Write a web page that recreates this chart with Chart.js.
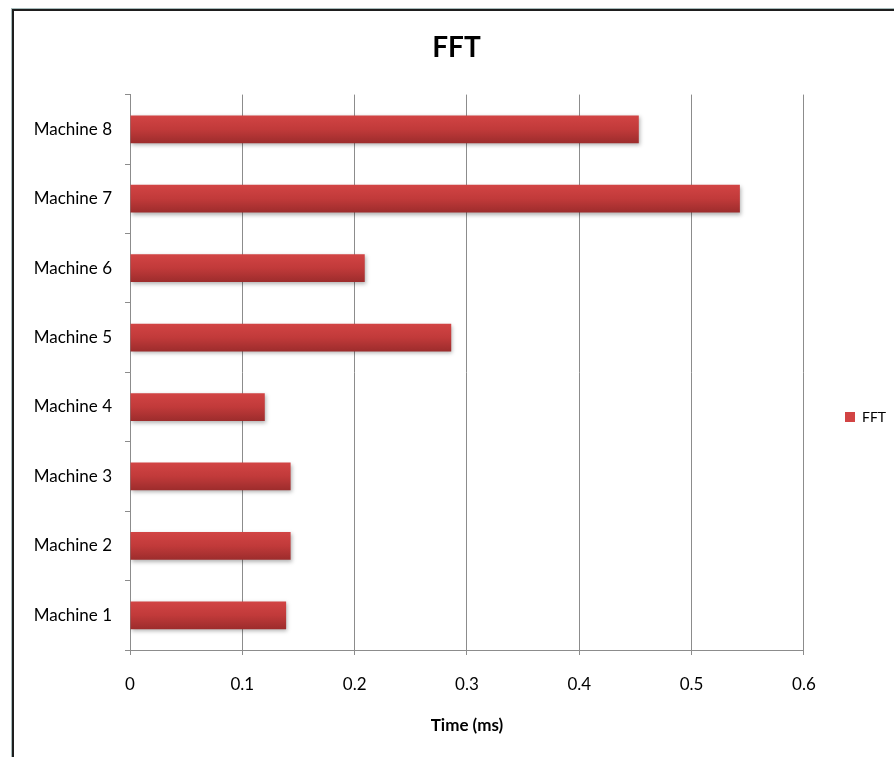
<!DOCTYPE html>
<html>
<head>
<meta charset="utf-8">
<title>FFT</title>
<script src="https://cdn.jsdelivr.net/npm/chart.js@4/dist/chart.umd.min.js"></script>
<style>
    html, body { margin: 0; padding: 0; background: #fff; }
    #marco {
        position: relative;
        width: 894px;
        height: 757px;
        overflow: hidden;
    }
    #grafico { position: absolute; left: 0; top: 0; }
    /* borde de la ventana (arriba e izquierda) */
    #borde {
        position: absolute;
        left: 12px; top: 9px; right: -10px; bottom: -10px;
        border-top: 2px solid #1e1e1e;
        border-left: 2px solid #1e1e1e;
        box-shadow: -1px -1px 0 #a8bcbc;
        pointer-events: none;
    }
</style>
</head>
<body>
<div id="marco">
    <canvas id="grafico" width="894" height="757"></canvas>
    <div id="borde"></div>
</div>
<script>
// Datos del gráfico
const maquinas = ["Machine 1", "Machine 2", "Machine 3", "Machine 4",
                  "Machine 5", "Machine 6", "Machine 7", "Machine 8"];
const tiemposFFT = [0.139, 0.143, 0.143, 0.12, 0.286, 0.209, 0.543, 0.453];
const ticksTiempo = [0, 0.1, 0.2, 0.3, 0.4, 0.5, 0.6];

const fuente = "Lato, 'Open Sans', sans-serif";
const gris = "#8c8c8c";

// Degradado rojo de cada barra (más claro arriba)
function colorBarra(ctx) {
    const chart = ctx.chart;
    const escala = chart.scales && chart.scales.y;
    if (!chart.chartArea || !escala || ctx.dataIndex === undefined) {
        return "#c0393b";
    }
    const centro = escala.getPixelForValue(ctx.dataIndex);
    const medio = 14;
    const g = chart.ctx.createLinearGradient(0, centro - medio, 0, centro + medio);
    g.addColorStop(0, "#d24444");
    g.addColorStop(0.5, "#c13a3a");
    g.addColorStop(1, "#9c2c2c");
    return g;
}

// Sombra suave debajo de las barras
const sombraBarras = {
    id: "sombraBarras",
    beforeDatasetsDraw(chart) {
        const c = chart.ctx;
        c.save();
        c.shadowColor = "rgba(0,0,0,0.30)";
        c.shadowBlur = 4;
        c.shadowOffsetX = 1;
        c.shadowOffsetY = 2;
    },
    afterDatasetsDraw(chart) {
        chart.ctx.restore();
    }
};

// Coloca la leyenda a la derecha y centra el título sobre el área del gráfico
const posicionLeyenda = {
    id: "posicionLeyenda",
    afterLayout(chart) {
        const lg = chart.legend;
        if (lg) {
            const ancho = lg.width;
            lg.left = 835;
            lg.right = 835 + ancho;
            lg.top = 417 - 40;
            lg.bottom = 417 + 40;
        }
        const tb = chart.titleBlock;
        if (tb) {
            tb.left += 24;
            tb.right += 24;
        }
    }
};

new Chart(document.getElementById("grafico"), {
    type: "bar",
    data: {
        labels: maquinas,
        datasets: [{
            label: "FFT",
            data: tiemposFFT,
            backgroundColor: colorBarra,
            borderWidth: 0,
            barPercentage: 0.4,
            categoryPercentage: 1
        }]
    },
    options: {
        indexAxis: "y",
        responsive: false,
        animation: false,
        layout: { padding: { left: 0, right: 29, top: 0, bottom: 0 } },
        plugins: {
            title: {
                display: true,
                text: "FFT",
                color: "#000",
                font: { family: fuente, size: 28, weight: "bold", lineHeight: 1.2 },
                padding: { top: 31, bottom: 30 }
            },
            legend: {
                position: "right",
                labels: {
                    color: "#000",
                    boxWidth: 10,
                    boxHeight: 10,
                    font: { family: fuente, size: 14 }
                }
            },
            tooltip: { enabled: false }
        },
        scales: {
            x: {
                min: 0,
                max: 0.6,
                afterBuildTicks(escala) {
                    escala.ticks = ticksTiempo.map(v => ({ value: v }));
                },
                afterFit(escala) { escala.height = 107; },
                ticks: {
                    color: "#000",
                    padding: 19,
                    font: { family: fuente, size: 17 },
                    callback: v => String(v)
                },
                grid: { color: gris, lineWidth: 1, tickLength: 5 },
                border: { display: true, color: gris },
                title: {
                    display: true,
                    text: "Time (ms)",
                    color: "#000",
                    font: { family: fuente, size: 17, weight: "bold" },
                    padding: { top: 0, bottom: 21 }
                }
            },
            y: {
                reverse: true,
                afterFit(escala) { escala.width = 130; },
                ticks: {
                    color: "#000",
                    padding: 13,
                    font: { family: fuente, size: 17 }
                },
                grid: {
                    offset: true,
                    drawOnChartArea: false,
                    color: gris,
                    tickLength: 5
                },
                border: { display: true, color: gris }
            }
        }
    },
    plugins: [sombraBarras, posicionLeyenda]
});
</script>
</body>
</html>
